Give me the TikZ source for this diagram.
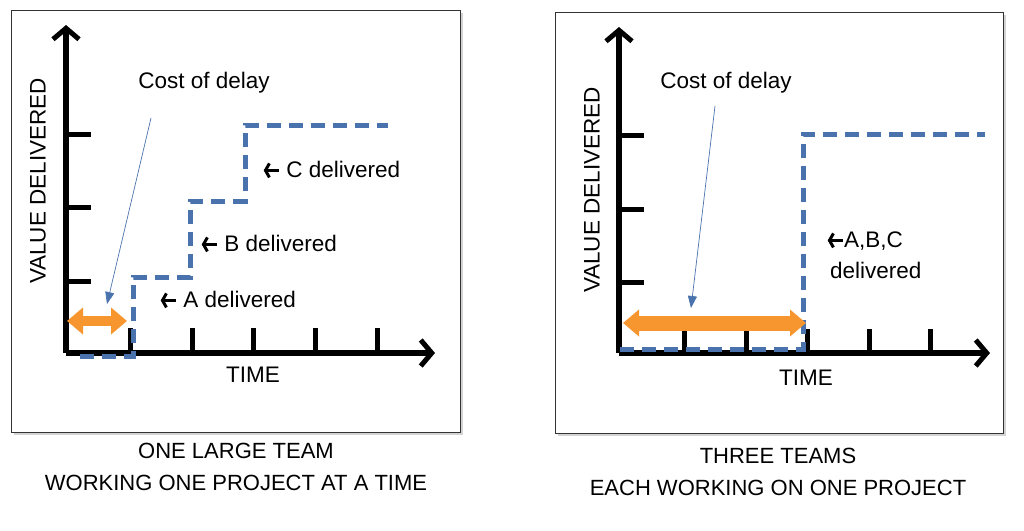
\documentclass[tikz,border=0pt]{standalone}
\usepackage{fontspec}
\setmainfont{Liberation Sans}
\usetikzlibrary{arrows.meta,shadows}
\definecolor{orng}{HTML}{F7962F}
\definecolor{blu}{HTML}{4A73AD}
\newcommand{\larrow}{\tikz[baseline=0pt,x=1pt,y=1pt]\draw[line width=3pt,{Straight Barb[length=4pt,width=14pt,line width=3pt]}-] (0,7) -- (15,7);}
\begin{document}
\begin{tikzpicture}[x=1pt,y=-1pt,
  frame/.style={draw=black!80,line width=1pt,fill=white,drop shadow={shadow xshift=3pt,shadow yshift=-3pt,opacity=0.35}},
  axis/.style={line width=6pt,-{Straight Barb[length=11pt,width=26pt,line width=5pt]}},
  tickmark/.style={line width=5pt},
  val/.style={blu,line width=5pt,dash pattern=on 14pt off 8pt},
  cod/.style={orng,line width=10pt,{Triangle[length=16pt,width=26pt]}-{Triangle[length=16pt,width=26pt]}},
  thin/.style={blu,line width=0.7pt,-{Triangle[length=12pt,width=9pt]}},
  lbl/.style={font=\fontsize{22.5}{26}\selectfont,inner sep=0pt},
  captxt/.style={font=\fontsize{22}{32}\selectfont,align=center,inner sep=0pt}]
\useasboundingbox (0,0) rectangle (1024,530);
% left panel
\path[frame] (11,10) rectangle (460,432);
\draw[axis] (66,353) -- (435,353);
\draw[axis] (66,353) -- (66,25);
\foreach \y in {134,207,281} \draw[tickmark] (66,\y) -- (91,\y);
\foreach \x in {130,192,253,315,377} \draw[tickmark] (\x,328) -- (\x,353);
\draw[val] (80,356) -- (133,356) -- (133,277) -- (190,277) -- (190,201) -- (245,201) -- (245,125) -- (388,125);
\coordinate (lo1) at (67,321); \coordinate (lo2) at (127,321);
\draw[cod] (lo1) -- (lo2);
\node[lbl] (lcod) at (204,83) {Cost of delay};
\coordinate (lt) at (151,118); \coordinate (lh) at (107,304);
\draw[thin] (lt) -- (lh);
\node[lbl,anchor=west] (lc) at (262,170) {\larrow\ C delivered};
\node[lbl,anchor=west] (lb) at (200,244) {\larrow\ B delivered};
\node[lbl,anchor=west] (la) at (159,300) {\larrow\ A delivered};
\node[lbl] (ltime) at (253,375) {TIME};
\node[lbl,rotate=90] (lval) at (38,181) {VALUE DELIVERED};
\node[captxt] (lcap) at (236,467) {ONE LARGE TEAM\\WORKING ONE PROJECT AT A TIME};
% right panel
\path[frame] (555,12) rectangle (1003,433);
\draw[axis] (619,353) -- (990,353);
\draw[axis] (619,353) -- (619,27);
\foreach \y in {135,209,282} \draw[tickmark] (619,\y) -- (644,\y);
\foreach \x in {684,746,807,869,930} \draw[tickmark] (\x,329) -- (\x,353);
\draw[val] (620,349) -- (803,349) -- (803,134) -- (985,134);
\coordinate (ro1) at (623,323); \coordinate (ro2) at (806,323);
\draw[cod,line width=15pt] (ro1) -- (ro2);
\node[lbl] (rcod) at (726,83) {Cost of delay};
\coordinate (rt) at (715,106); \coordinate (rh) at (691,308);
\draw[thin] (rt) -- (rh);
\node[lbl,anchor=west] (rabc) at (826,241) {\larrow A,B,C};
\node[lbl,anchor=west] (rdel) at (830,270) {delivered};
\node[lbl] (rtime) at (806,378) {TIME};
\node[lbl,rotate=90] (rval) at (592,190) {VALUE DELIVERED};
\node[captxt] (rcap) at (778,472) {THREE TEAMS\\EACH WORKING ON ONE PROJECT};
\end{tikzpicture}
\end{document}
